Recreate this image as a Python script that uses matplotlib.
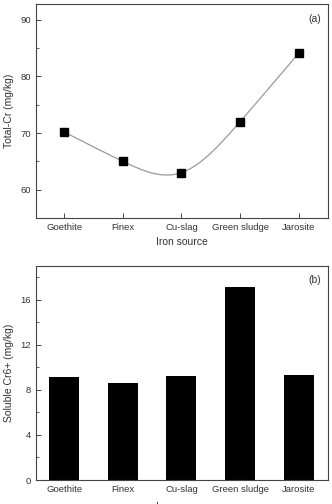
import numpy as np
import matplotlib
matplotlib.use("Agg")
import matplotlib.pyplot as plt
from matplotlib.ticker import MultipleLocator

categories = ["Goethite", "Finex", "Cu-slag", "Green sludge", "Jarosite"]
total_cr = [70.2, 65.0, 63.0, 72.0, 84.1]
soluble_cr6 = [9.1, 8.6, 9.2, 17.1, 9.3]

plt.rcParams['font.family'] = ['Liberation Sans', 'DejaVu Sans']
TXT = '#333333'

def natural_spline(x, y, n=200):
    x = np.asarray(x, float); y = np.asarray(y, float)
    m = len(x); h = np.diff(x)
    A = np.zeros((m, m)); b = np.zeros(m)
    A[0, 0] = A[-1, -1] = 1
    for i in range(1, m - 1):
        A[i, i - 1] = h[i - 1]; A[i, i] = 2 * (h[i - 1] + h[i]); A[i, i + 1] = h[i]
        b[i] = 3 * ((y[i + 1] - y[i]) / h[i] - (y[i] - y[i - 1]) / h[i - 1])
    c = np.linalg.solve(A, b)
    xs = np.linspace(x[0], x[-1], n); ys = np.empty_like(xs)
    for k, xv in enumerate(xs):
        i = min(np.searchsorted(x, xv, side='right') - 1, m - 2)
        dx = xv - x[i]
        bb = (y[i + 1] - y[i]) / h[i] - h[i] * (2 * c[i] + c[i + 1]) / 3
        d = (c[i + 1] - c[i]) / (3 * h[i])
        ys[k] = y[i] + bb * dx + c[i] * dx ** 2 + d * dx ** 3
    return xs, ys

fig = plt.figure(figsize=(3.32, 5.04), dpi=100)
ax1 = fig.add_axes([0.1084, 0.5675, 0.8795, 0.4246])
ax2 = fig.add_axes([0.1084, 0.0476, 0.8795, 0.4252])

x = np.arange(len(categories))
xs, ys = natural_spline(x, total_cr)
ax1.plot(xs, ys, color='#9a9a9a', lw=0.9, zorder=2)
ax1.plot(x, total_cr, 's', color='black', ms=6, zorder=3)
ax1.set_xlim(-0.48, 4.5)
ax1.set_ylim(55, 92.8)
ax1.yaxis.set_major_locator(MultipleLocator(10))
ax1.yaxis.set_minor_locator(MultipleLocator(5))
ax1.set_xticks(x)
ax1.set_xticklabels(categories)
ax1.set_ylabel("Total-Cr (mg/kg)", fontsize=7.5, color=TXT, labelpad=5)
ax1.set_xlabel("Iron source", fontsize=7.5, color=TXT, labelpad=4)
ax1.text(0.975, 0.955, "(a)", transform=ax1.transAxes, ha='right', va='top', fontsize=7.5, color=TXT)

ax2.bar(x, soluble_cr6, width=0.51, color='black', zorder=2)
ax2.set_xlim(-0.48, 4.5)
ax2.set_ylim(0, 19)
ax2.yaxis.set_major_locator(MultipleLocator(4))
ax2.yaxis.set_minor_locator(MultipleLocator(2))
ax2.set_xticks(x)
ax2.set_xticklabels(categories)
ax2.set_ylabel("Soluble Cr6+ (mg/kg)", fontsize=7.5, color=TXT, labelpad=5)
ax2.set_xlabel("Iron source", fontsize=7.5, color=TXT, labelpad=6)
ax2.text(0.975, 0.955, "(b)", transform=ax2.transAxes, ha='right', va='top', fontsize=7.5, color=TXT)

for ax in (ax1, ax2):
    for s in ax.spines.values():
        s.set_color('#444444'); s.set_linewidth(0.8)
    ax.tick_params(axis='both', which='major', direction='in', length=3.5, width=0.7,
                   colors='#444444', labelcolor=TXT, labelsize=6.8, top=False, right=False, pad=3.5)
    ax.tick_params(axis='y', which='minor', direction='in', length=2, width=0.6, colors='#444444')
    ax.tick_params(axis='x', which='minor', bottom=False)

fig.savefig("out.png", dpi=100, facecolor='white')
